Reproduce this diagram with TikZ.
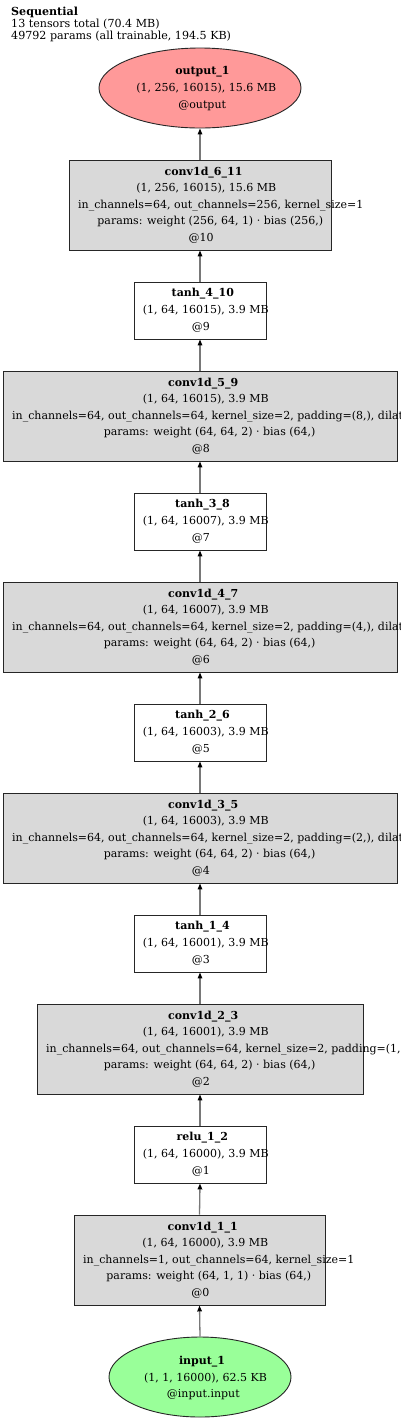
\documentclass[tikz,border=0pt]{standalone}
\usepackage{fontspec}
\setmainfont{DejaVu Serif}
\usetikzlibrary{arrows.meta,shapes.geometric}
\definecolor{convfill}{RGB}{217,217,217}
\definecolor{outfill}{RGB}{255,153,153}
\definecolor{infill}{RGB}{153,255,153}
\definecolor{edgegray}{RGB}{120,120,120}
\newlength\lnw
\newcommand\fsz{\fontsize{11}{12}\selectfont}
% text set in a box 1/1.1 of its width, centred: it overflows to the right
\newcommand\estbox[1]{\settowidth\lnw{#1}\makebox[0.909\lnw][l]{#1}}
\newcommand\bxline[4]{%
  \node[txt] (#1) at (#2,#3) {\estbox{#4}};%
}
\newcommand\convbox[9]{%
  \node[convbox, minimum width=#4pt] (#1) at (#2,#3+45) {};%
  \bxline{#1-1}{#2}{#3+15}{\textbf{#5}}%
  \bxline{#1-2}{#2}{#3+31.6}{#6}%
  \node[txt, anchor=base west] (#1-3) at (#2-#4/2+9,#3+48.2) {#7};%
  \bxline{#1-4}{#2}{#3+64.8}{#8}%
  \bxline{#1-5}{#2}{#3+81.4}{#9}%
}
\newcommand\smallbox[5]{%
  \node[smallbox] (#1) at (200,#2+28.5) {};%
  \bxline{#1-1}{200}{#2+14.8}{\textbf{#3}}%
  \bxline{#1-2}{200}{#2+31.6}{#4}%
  \bxline{#1-3}{200}{#2+48.4}{#5}%
}
\tikzset{
  txt/.style={anchor=base, inner sep=0pt, font=\fsz},
  head/.style={anchor=base west, inner sep=0pt, font=\fontsize{11.1}{12}\selectfont},
  convbox/.style={draw=black!85, line width=0.9pt, fill=convfill, minimum height=90pt, inner sep=0pt},
  smallbox/.style={draw=black!85, line width=0.9pt, fill=white, minimum width=132pt, minimum height=57pt, inner sep=0pt},
  ellbox/.style={ellipse, draw=black!85, line width=0.9pt, minimum height=80pt, inner sep=0pt},
  edge/.style={draw=edgegray, line width=1.3pt, -{Triangle[length=6pt,width=4.5pt,black]}}
}
\begin{document}
\begin{tikzpicture}[x=1pt,y=-1pt]
\fill[white] (0,0) rectangle (400,1422);
\useasboundingbox (0,0) rectangle (400,1422);

\node[head] (h1) at (11,15.7) {\textbf{Sequential}};
\node[head] (h2) at (11,27.5) {13 tensors total (70.4 MB)};
\node[head] (h3) at (11,39.3) {49792 params (all trainable, 194.5 KB)};

\node[ellbox, fill=outfill, minimum width=202pt] (out) at (200,88) {};
\bxline{out-1}{200}{74.5}{\textbf{output\_1}}
\bxline{out-2}{200}{91.3}{(1, 256, 16015), 15.6 MB}
\bxline{out-3}{200}{108}{@output}

\convbox{c11}{200}{160}{262}{conv1d\_6\_11}{(1, 256, 16015), 15.6 MB}{in\_channels=64, out\_channels=256, kernel\_size=1}{params: weight (256, 64, 1) · bias (256,)}{@10}
\smallbox{t10}{282}{tanh\_4\_10}{(1, 64, 16015), 3.9 MB}{@9}
\convbox{c9}{200}{371}{394}{conv1d\_5\_9}{(1, 64, 16015), 3.9 MB}{in\_channels=64, out\_channels=64, kernel\_size=2, padding=(8,), dilation=(8,)}{params: weight (64, 64, 2) · bias (64,)}{@8}
\smallbox{t8}{493}{tanh\_3\_8}{(1, 64, 16007), 3.9 MB}{@7}
\convbox{c7}{200}{582}{394}{conv1d\_4\_7}{(1, 64, 16007), 3.9 MB}{in\_channels=64, out\_channels=64, kernel\_size=2, padding=(4,), dilation=(4,)}{params: weight (64, 64, 2) · bias (64,)}{@6}
\smallbox{t6}{704}{tanh\_2\_6}{(1, 64, 16003), 3.9 MB}{@5}
\convbox{c5}{200}{793}{394}{conv1d\_3\_5}{(1, 64, 16003), 3.9 MB}{in\_channels=64, out\_channels=64, kernel\_size=2, padding=(2,), dilation=(2,)}{params: weight (64, 64, 2) · bias (64,)}{@4}
\smallbox{t4}{915}{tanh\_1\_4}{(1, 64, 16001), 3.9 MB}{@3}
\convbox{c3}{200}{1004}{326}{conv1d\_2\_3}{(1, 64, 16001), 3.9 MB}{in\_channels=64, out\_channels=64, kernel\_size=2, padding=(1,), dilation=(1,)}{params: weight (64, 64, 2) · bias (64,)}{@2}
\smallbox{r2}{1126}{relu\_1\_2}{(1, 64, 16000), 3.9 MB}{@1}
\convbox{c1}{199.5}{1215}{251}{conv1d\_1\_1}{(1, 64, 16000), 3.9 MB}{in\_channels=1, out\_channels=64, kernel\_size=1}{params: weight (64, 1, 1) · bias (64,)}{@0}

\node[ellbox, fill=infill, minimum width=182pt] (inp) at (200,1377) {};
\bxline{inp-1}{200}{1364.3}{\textbf{input\_1}}
\bxline{inp-2}{200}{1381}{(1, 1, 16000), 62.5 KB}
\bxline{inp-3}{200}{1397}{@input.input}

\draw[edge] (c11.north) -- (out.south);
\draw[edge] (t10.north) -- (c11.south);
\draw[edge] (c9.north) -- (t10.south);
\draw[edge] (t8.north) -- (c9.south);
\draw[edge] (c7.north) -- (t8.south);
\draw[edge] (t6.north) -- (c7.south);
\draw[edge] (c5.north) -- (t6.south);
\draw[edge] (t4.north) -- (c5.south);
\draw[edge] (c3.north) -- (t4.south);
\draw[edge] (r2.north) -- (c3.south);
\draw[edge] (c1.north) -- (r2.south);
\draw[edge] (inp.north) -- (c1.south);
\end{tikzpicture}
\end{document}
